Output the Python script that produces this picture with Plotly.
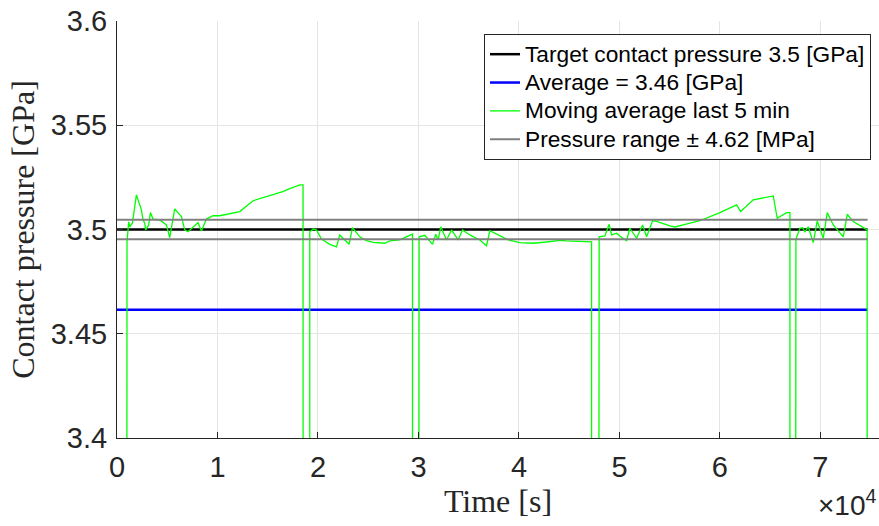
import plotly.graph_objects as go

# ---- data ----
time_s = [667, 996, 1165, 1264, 1533, 1931, 2429, 2588, 2757, 2857, 3156, 3325, 3584, 4251, 4918,
          5246, 5744, 6411, 6739, 7068, 8064, 8402, 8900, 9557, 10224, 12215, 13539, 15202, 16495,
          17192, 17859, 18188, 18516, 18586,
          19114, 19184, 19512, 19850, 20348, 21174, 21841, 22169, 22498, 23096, 23434, 24161, 24827,
          25485, 26649, 27147, 28143, 29138, 29407, 29437,
          30004, 30064, 30632, 31398, 31727, 31956, 32224, 32792, 33290, 33947, 34385, 35111, 36107,
          36774, 37102, 38098, 38924, 40089, 41413, 42747, 44071, 44738, 46062, 47226, 47256,
          47784, 47983, 48550, 48978, 49217, 49715, 50044, 50711, 51039, 51706, 52304, 52702, 53299,
          53697, 55021, 55519, 56345, 58008, 59999, 61661, 62060, 63314, 65305, 65703, 66639, 66967,
          66997,
          67534, 67562, 67962, 68231, 68460, 68789, 69287, 69685, 70282, 70681, 71278, 72273, 72672,
          73269, 74650, 74700]
moving_avg = [0.0, 3.4940, 3.5037, 3.5013, 3.5030, 3.5166, 3.5094, 3.5046, 3.5030, 3.4998, 3.5022,
              3.5081, 3.5050, 3.5046, 3.5022, 3.4961, 3.5099, 3.5062, 3.4998, 3.4989, 3.5033, 3.4993,
              3.5050, 3.5066, 3.5066, 3.5086, 3.5138, 3.5161, 3.5182, 3.5196, 3.5206, 3.5214, 3.5214, 0.0,
              0.0, 3.4989, 3.5002, 3.4998, 3.4954, 3.4929, 3.4917, 3.4974, 3.4958, 3.4929, 3.5009,
              3.4965, 3.4947, 3.4938, 3.4934, 3.4945, 3.4950, 3.4969, 3.4978, 0.0,
              0.0, 3.4965, 3.4972, 3.4929, 3.4977, 3.4950, 3.5013, 3.4950, 3.4998, 3.4950, 3.4998,
              3.4974, 3.4950, 3.4922, 3.4994, 3.4969, 3.4950, 3.4937, 3.4934, 3.4940, 3.4948, 3.4945,
              3.4941, 3.4941, 0.0,
              0.0, 3.4965, 3.4969, 3.5025, 3.4974, 3.4982, 3.4969, 3.4946, 3.5006, 3.4958, 3.5022,
              3.4965, 3.5042, 3.5039, 3.5017, 3.5012, 3.5022, 3.5042, 3.5081, 3.5118, 3.5086, 3.5142,
              3.5161, 3.5054, 3.5081, 3.5081, 0.0,
              0.0, 3.4954, 3.5006, 3.5009, 3.4989, 3.5013, 3.4937, 3.5041, 3.4958, 3.5081, 3.5022,
              3.4965, 3.5073, 3.5038, 3.4998, 0.0]

target_pressure = 3.5
average_pressure = 3.4615
pressure_range = 0.00462
time_span = [0, 74700]

x_tick_vals = [0, 10000, 20000, 30000, 40000, 50000, 60000, 70000]
x_tick_text = ["0", "1", "2", "3", "4", "5", "6", "7"]
y_tick_vals = [3.4, 3.45, 3.5, 3.55, 3.6]
y_tick_text = ["3.4", "3.45", "3.5", "3.55", "3.6"]

names = ["Target contact pressure 3.5 [GPa]", "Average = 3.46 [GPa]",
         "Moving average last 5 min", "Pressure range \u00b1 4.62 [MPa]"]


def legend_label(s):
    # larger glyphs than the legend's nominal font so the rows stay as tight as the reference
    return '<span style="font-size:22.7px">' + s + '</span>'


# ---- figure ----
fig = go.Figure()
fig.add_trace(go.Scatter(x=time_span, y=[target_pressure] * 2, mode="lines",
                         line=dict(color="#000000", width=2.5), name=legend_label(names[0])))
fig.add_trace(go.Scatter(x=time_span, y=[average_pressure] * 2, mode="lines",
                         line=dict(color="#0000ff", width=2.5), name=legend_label(names[1])))
fig.add_trace(go.Scatter(x=time_s, y=moving_avg, mode="lines",
                         line=dict(color="#00ff00", width=1.3), name=legend_label(names[2])))
fig.add_trace(go.Scatter(
    x=[time_span[0], time_span[1], None, time_span[0], time_span[1]],
    y=[target_pressure + pressure_range] * 2 + [None] + [target_pressure - pressure_range] * 2,
    mode="lines", line=dict(color="#808080", width=2), name=legend_label(names[3])))

axis_col = "#262626"
tick_font = dict(family="Liberation Sans, Arial, sans-serif", size=29, color=axis_col)
title_font = dict(family="Liberation Serif, Times New Roman, serif", size=32, color=axis_col)

fig.update_layout(
    width=879, height=526,
    margin=dict(l=117, r=0, t=21, b=88),
    plot_bgcolor="white", paper_bgcolor="white",
    showlegend=True,
    legend=dict(x=0.9895, xanchor="right", y=0.9688, yanchor="top",
                bgcolor="white", bordercolor=axis_col, borderwidth=1,
                font=dict(family="Liberation Sans, Arial, sans-serif", size=19.5, color="#000000"),
                tracegroupgap=0),
    xaxis=dict(range=[0, 75830], tickvals=x_tick_vals, ticktext=x_tick_text,
               showline=True, linecolor=axis_col, linewidth=1, ticks="inside", ticklen=6,
               tickcolor=axis_col, showgrid=True, gridcolor="#e5e5e5", gridwidth=1,
               zeroline=False, tickfont=tick_font, ticklabelstandoff=3,
               title=dict(text="Time [s]", font=title_font, standoff=4), automargin=False),
    yaxis=dict(range=[3.4, 3.6], tickvals=y_tick_vals, ticktext=y_tick_text,
               showline=True, linecolor=axis_col, linewidth=1, ticks="inside", ticklen=6,
               tickcolor=axis_col, showgrid=True, gridcolor="#e5e5e5", gridwidth=1,
               zeroline=False, tickfont=tick_font, ticklabelstandoff=3,
               title=dict(text="Contact pressure [GPa]", font=title_font, standoff=6),
               automargin=False),
)
fig.add_annotation(text="\u00d710<sup>4</sup>", xref="paper", yref="paper",
                   x=1.0, xanchor="right", y=-0.205, yanchor="bottom", showarrow=False,
                   font=dict(family="Liberation Sans, Arial, sans-serif", size=28, color=axis_col))

fig.write_html("out.html", config={"displayModeBar": False},
               post_script="document.body.style.margin='0px';")
